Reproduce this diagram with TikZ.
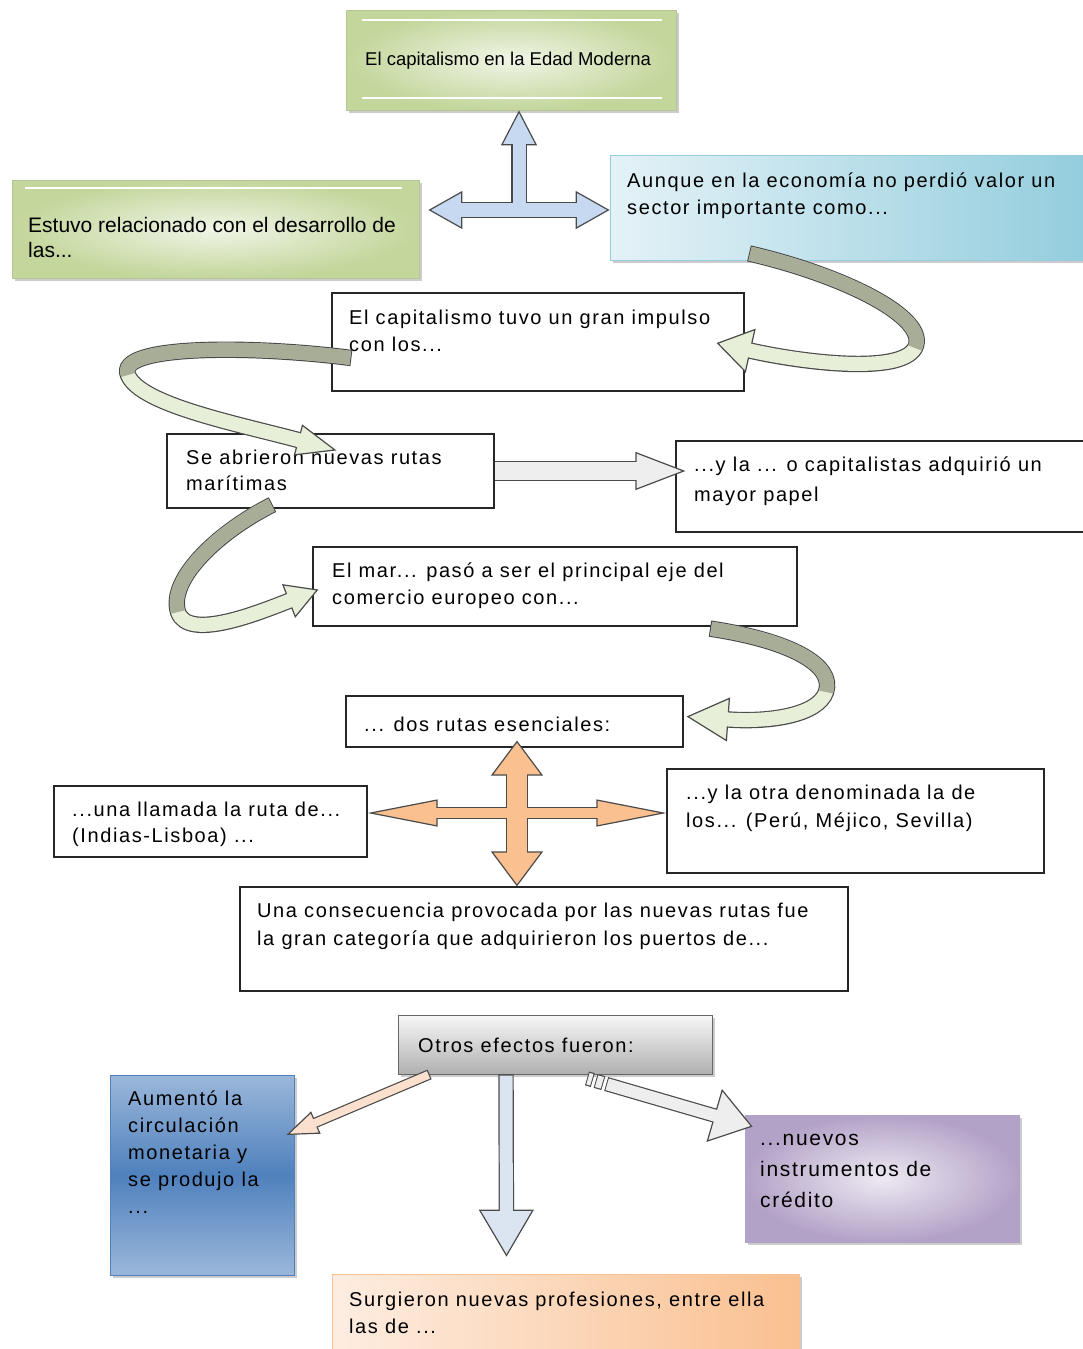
\documentclass[tikz,border=0pt]{standalone}
\usepackage{fontspec}
\setmainfont{Liberation Sans}[LetterSpace=8]
\newfontfamily\plainsf{Liberation Sans}
\usetikzlibrary{arrows.meta,calc,fit,shadows}
\definecolor{gverde}{HTML}{C3D69B}
\definecolor{gpale}{HTML}{F0F5E6}
\definecolor{azul}{HTML}{93CDDD}
\definecolor{azulp}{HTML}{E4F2F7}
\definecolor{azulm}{HTML}{4F81BD}
\definecolor{azull}{HTML}{9BB7DA}
\definecolor{lila}{HTML}{B3A2C7}
\definecolor{lilap}{HTML}{EDE9F2}
\definecolor{naranja}{HTML}{FAC090}
\definecolor{naranjap}{HTML}{FDEDE1}
\definecolor{cintaos}{HTML}{A7AD97}
\definecolor{cintacl}{HTML}{E7EFD9}
\definecolor{borde}{HTML}{4A4A4A}
\definecolor{flazul}{HTML}{C6D9F1}
\definecolor{flnar}{HTML}{FAC08F}
\definecolor{flgris}{HTML}{EEEEEE}
\definecolor{flmel}{HTML}{FBE1CD}
\definecolor{flceleste}{HTML}{DBE5F1}
\tikzset{
  caja/.style={draw=black!85, line width=1.2pt, fill=white, inner sep=0pt},
  cajac/.style={inner sep=0pt, line width=0.8pt, drop shadow={shadow xshift=3pt, shadow yshift=-3pt, opacity=.4}},
  txt/.style={anchor=north west, inner sep=0pt, align=left, font=\fontsize{20}{27}\selectfont, execute at begin node={\rule{0pt}{19pt}}},
  punta/.style n args={3}{-{Triangle[length=#1, width=#2, line width=1.2pt, fill=#3]}},
  puntas/.style n args={3}{{Triangle[length=#1, width=#2, line width=1.2pt, fill=#3]}-{Triangle[length=#1, width=#2, line width=1.2pt, fill=#3]}}
}
\newcommand{\cinta}[4]{%
  \draw[borde, line width=16.4pt, punta={#3}{#4}{cintacl}] #1 #2;
  \draw[cintacl, line width=14pt, shorten <=1.2pt, shorten >=#3-2pt] #1 #2;
  \draw[cintaos, line width=14pt, shorten <=1.2pt] #1;}
\begin{document}
\begin{tikzpicture}[x=1pt, y=-1pt]
  \fill[white] (0,0) rectangle (1083,1349);
  \useasboundingbox (0,0) rectangle (1083,1349);
  \node[cajac, draw=gverde!80!gray, inner color=gpale, outer color=gverde, fit={(346,10) (676,110)}] (a) {};
  \node[cajac, draw=gverde!80!gray, inner color=gpale, outer color=gverde, fit={(12,180) (419,278)}] (b) {};
  \node[cajac, draw=azul, left color=azulp, right color=azul, fit={(610,155) (1090,260)}] (c) {};
  \node[caja, fit={(332,293) (744,391)}] (d) {};
  \node[caja, fit={(167,434) (494,508)}] (e) {};
  \node[caja, fit={(676,441) (1090,532)}] (f) {};
  \node[caja, fit={(313,547) (797,626)}] (g) {};
  \node[caja, fit={(346,696) (683,747)}] (h) {};
  \node[caja, fit={(54,786) (367,857)}] (i) {};
  \node[caja, fit={(667,769) (1044,873)}] (j) {};
  \node[caja, fit={(240,887) (848,991)}] (k) {};
  \node[cajac, draw=gray!80!black, top color=gray!6, bottom color=gray!62, fit={(398,1015) (712,1074)}] (l) {};
  \node[cajac, draw=azulm, top color=azull, bottom color=azull, middle color=azulm, fit={(110,1075) (294,1275)}] (m) {};
  \node[cajac, draw=lila, inner color=lilap, outer color=lila, fit={(745,1115) (1019,1242)}] (n) {};
  \node[cajac, draw=naranja, left color=naranjap, right color=naranja, fit={(332,1274) (799,1360)}] (o) {};
  \draw[white, line width=1.5pt] (362,20) -- (662,20) (362,98) -- (662,98) (25,188) -- (402,188);

  \node[txt, font=\plainsf\fontsize{18.5}{27}\selectfont] (ta) at (365,46) {El capitalismo en la Edad Moderna};
  \node[txt, font=\plainsf\fontsize{21}{25}\selectfont] (tb) at (28,217) {Estuvo relacionado con el desarrollo de\\las...};
  \node[txt] (tc) at (627,173) {Aunque en la economía no perdió valor un\\sector importante como...};
  \node[txt] (td) at (349,310) {El capitalismo tuvo un gran impulso\\con los...};
  \node[txt, font=\fontsize{20}{26}\selectfont] (te) at (186,450) {Se abrieron nuevas rutas\\marítimas};
  \node[txt, font=\fontsize{20}{30}\selectfont] (tf) at (694,457) {...y la ... o capitalistas adquirió un\\mayor papel};
  \node[txt] (tg) at (332,563) {El mar... pasó a ser el principal eje del\\comercio europeo con...};
  \node[txt] (th) at (364,712) {... dos rutas esenciales:};
  \node[txt, font=\fontsize{20}{26}\selectfont] (ti) at (72,802) {...una llamada la ruta de...\\(Indias-Lisboa) ...};
  \node[txt, font=\fontsize{20}{28}\selectfont] (tj) at (686,785) {...y la otra denominada la de\\los... (Perú, Méjico, Sevilla)};
  \node[txt, font=\fontsize{20}{28}\selectfont] (tk) at (257,903) {Una consecuencia provocada por las nuevas rutas fue\\la gran categoría que adquirieron los puertos de...};
  \node[txt] (tl) at (418,1033) {Otros efectos fueron:};
  \node[txt] (tm) at (128,1091) {Aumentó la\\circulación\\monetaria y\\se produjo la\\...};
  \node[txt, font=\fontsize{21}{31}\selectfont] (tn) at (760,1134) {...nuevos\\instrumentos de\\crédito};
  \node[txt] (to) at (349,1292) {Surgieron nuevas profesiones, entre ella\\las de ...};

  \coordinate (p) at (519,210);
  \draw[borde, line width=16.4pt, puntas={34pt}{38pt}{flazul}] ($(p -| b.east)+(9,0)$) -- (p -| c.west);
  \draw[borde, line width=15.4pt, punta={35pt}{36pt}{flazul}] (p) -- (p |- a.south);
  \draw[flazul, line width=14pt, shorten <=32pt, shorten >=32pt] ($(p -| b.east)+(9,0)$) -- (p -| c.west);
  \draw[flazul, line width=13pt, shorten >=33pt] (p) -- (p |- a.south);

  \coordinate (r1) at (915,348);
  \coordinate (r2) at (128,375);
  \coordinate (r3) at (178,612);
  \coordinate (r4) at (826,692);
  \cinta{($(c.south)+(-101,-7)$) .. controls +(95,22) and +(15,-30) .. (r1)}{.. controls +(-15,27) and +(84,19) .. ($(d.east)+(-28,1)$)}{35pt}{45pt}
  \cinta{($(d.west)+(20,16)$) .. controls +(-102,-13) and +(-13,-30) .. (r2)}{.. controls +(12,30) and +(-96,-26) .. ($(e.north)+(6,17)$)}{40pt}{32pt}
  \cinta{($(e.south)+(-58,-4)$) .. controls +(-52,26) and +(-10,-34) .. (r3)}{.. controls +(10,30) and +(-57,22) .. ($(g.west)+(6,3)$)}{32pt}{36pt}
  \cinta{($(g.south)+(155,2)$) .. controls +(80,12) and +(9,-27) .. (r4)}{.. controls +(-8,23) and +(84,6) .. ($(h.east)+(3,-5)$)}{42pt}{44pt}

  \draw[borde, line width=20.4pt, punta={50pt}{38pt}{flgris}] (e.east) -- ($(e.east -| f.west)+(10,0)$);
  \draw[flgris, line width=18pt, shorten >=48pt] (e.east) -- ($(e.east -| f.west)+(10,0)$);

  \coordinate (q) at (517,813);
  \draw[borde, line width=12.4pt, puntas={70pt}{27pt}{flnar}] (q -| i.east) -- (q -| j.west);
  \draw[borde, line width=22.4pt, puntas={35pt}{52pt}{flnar}] (q |- k.north) -- ($(q |- h.south)+(0,-7)$);
  \draw[flnar, line width=10pt, shorten <=68pt, shorten >=68pt] (q -| i.east) -- (q -| j.west);
  \draw[flnar, line width=20pt, shorten <=33pt, shorten >=33pt] (q |- k.north) -- ($(q |- h.south)+(0,-7)$);

  \draw[borde, line width=10.4pt, punta={32pt}{24pt}{flmel}] ($(l.south west)+(32,0)$) -- ($(m.east)+(-8,-40)$);
  \draw[flmel, line width=8pt, shorten <=1.2pt, shorten >=30pt] ($(l.south west)+(32,0)$) -- ($(m.east)+(-8,-40)$);
  \draw[borde, line width=15.4pt, punta={47pt}{55pt}{flceleste}] ($(l.south)+(-49,0)$) -- ($(o.north)+(-59,-17)$);
  \draw[flceleste, line width=13pt, shorten <=1.2pt, shorten >=45pt] ($(l.south)+(-49,0)$) -- ($(o.north)+(-59,-17)$);
  \draw[borde, line width=14.4pt, dash pattern=on 6pt off 3pt on 8pt off 3pt on 400pt, punta={40pt}{55pt}{flgris}] ($(l.south)+(32,4)$) -- ($(n.north west)+(8,12)$);
  \draw[flgris, line width=12pt, dash pattern=on 4pt off 5pt on 6pt off 5pt on 400pt, shorten <=1pt, shorten >=38pt] ($(l.south)+(32,4)$) -- ($(n.north west)+(8,12)$);
\end{tikzpicture}
\end{document}
